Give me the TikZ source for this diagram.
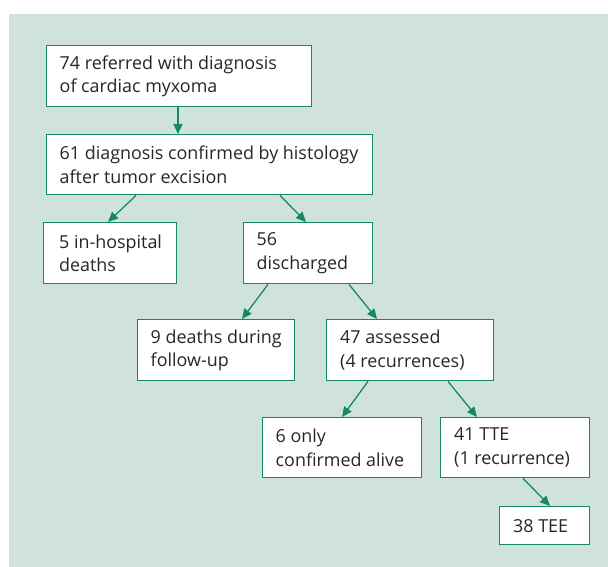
\documentclass[tikz,border=0pt]{standalone}
\usepackage{fontspec}
\setmainfont{Open Sans}
\usetikzlibrary{arrows.meta,calc}
\definecolor{bgc}{HTML}{CFE3DC}
\definecolor{grn}{HTML}{168A5E}
\definecolor{txt}{HTML}{2A2626}
\tikzset{
  box/.style={draw=grn, line width=1.4pt, fill=white, anchor=north west, inner sep=0pt},
  lbl/.style={anchor=west, inner sep=0pt, align=left, text=txt,
    font=\fontsize{17.9pt}{23.5pt}\selectfont},
  arr/.style={draw=grn, line width=1.3pt, -{Triangle[length=10pt,width=9pt]}}
}
% name, x, y, w, h, text inset, text
\newcommand{\bx}[7]{\node[box, minimum width=#4pt, minimum height=#5pt] (#1) at (#2,#3) {};
  \node[lbl] (#1t) at ($(#1.west)+(#6,0)$) {#7};}
\begin{document}
\begin{tikzpicture}[x=1pt,y=-1pt]
\useasboundingbox (0,0) rectangle (608,567);
\fill[bgc] (9,14) rectangle (608,567);
\bx{b1}{46}{45}{265}{61}{13.5}{74 referred with diagnosis\\of cardiac myxoma}
\bx{b2}{46}{134}{326}{60}{13.5}{61 diagnosis confirmed by histology\\after tumor excision}
\bx{b3}{43}{222}{133}{61}{16}{5 in-hospital\\deaths}
\bx{b4}{243}{222}{129}{61}{13.5}{56\\discharged}
\bx{b5}{137}{319}{157}{61}{13.5}{9 deaths during\\follow-up}
\bx{b6}{326}{319}{167}{61}{14}{47 assessed\\(4 recurrences)}
\bx{b7}{262}{417}{159}{60}{13.5}{6 only\\confirmed alive}
\bx{b8}{440}{417}{149}{60}{14}{41 TTE\\(1 recurrence)}
\bx{b9}{499}{506}{90}{38}{14}{38 TEE}
\draw[arr] ($(b1.south west)+(132,0)$) -- ($(b2.north west)+(132,0)$);
\draw[arr] ($(b2.south west)+(90,0)$) -- ($(b3.north west)+(65,0)$);
\draw[arr] ($(b2.south west)+(234,0)$) -- ($(b4.north west)+(63,0)$);
\draw[arr] ($(b4.south west)+(25,0)$) -- ($(b5.north west)+(105,0)$);
\draw[arr] ($(b4.south west)+(106,0)$) -- ($(b6.north west)+(51,0)$);
\draw[arr] ($(b6.south west)+(42,0)$) -- ($(b7.north west)+(80,0)$);
\draw[arr] ($(b6.south west)+(122,0)$) -- ($(b8.north west)+(37,0)$);
\draw[arr] ($(b8.south west)+(83,0)$) -- ($(b9.north west)+(51,0)$);
\end{tikzpicture}
\end{document}
